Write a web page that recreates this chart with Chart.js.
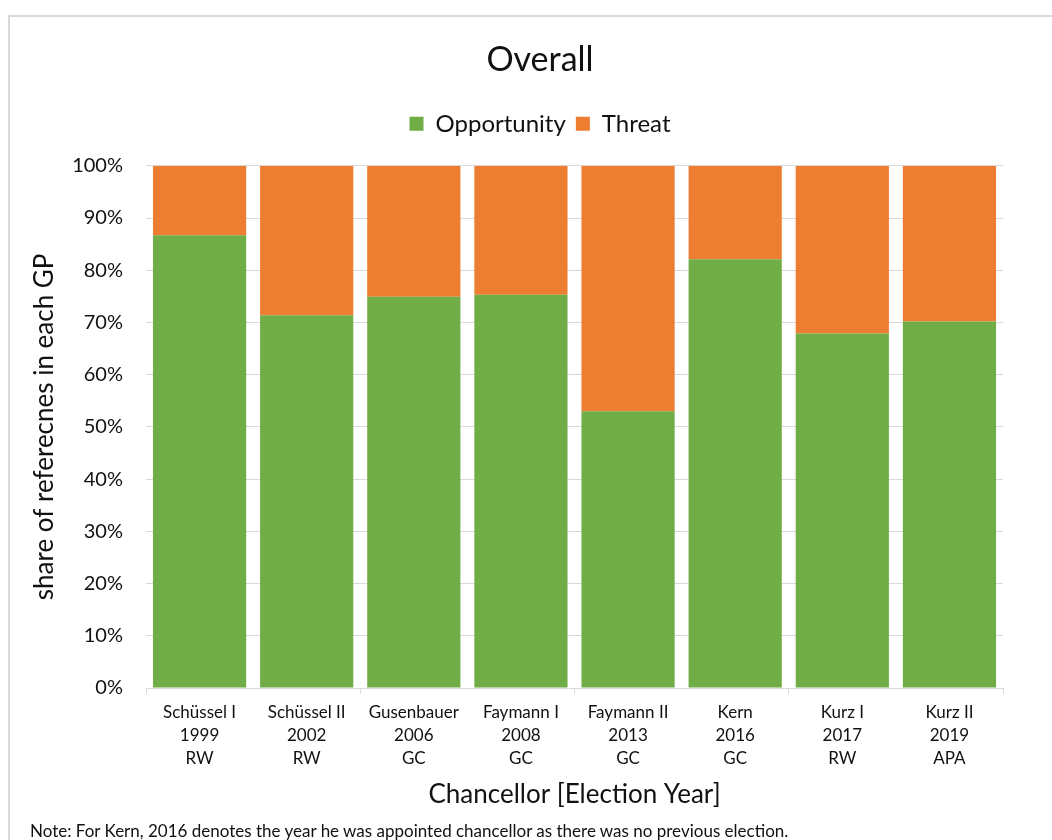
<!DOCTYPE html>
<html>
<head>
<meta charset="utf-8">
<script src="https://cdn.jsdelivr.net/npm/chart.js@4/dist/chart.umd.min.js"></script>
<style>
    html, body { margin: 0; padding: 0; background: #fff; overflow: hidden; }
    #wrap { position: relative; width: 1052px; height: 840px; }
    #frame {
        position: absolute; left: 8px; top: 15px; width: 1100px; height: 900px;
        border-left: 2px solid #d9d9d9; border-top: 2px solid #d9d9d9;
    }
    #chart { position: absolute; left: 0; top: 0; }
    #note {
        position: absolute; left: 30px; top: 821px;
        font-family: Lato, sans-serif; font-size: 17px; line-height: 20px; color: #111;
        white-space: nowrap;
    }
</style>
</head>
<body>
<div id="wrap">
    <div id="frame"></div>
    <canvas id="chart" width="1052" height="840"></canvas>
    <div id="note">Note: For Kern, 2016 denotes the year he was appointed chancellor as there was no previous election.</div>
</div>
<script>
const chancellors = ["Schüssel I", "Schüssel II", "Gusenbauer", "Faymann I", "Faymann II", "Kern", "Kurz I", "Kurz II"];
const electionYears = ["1999", "2002", "2006", "2008", "2013", "2016", "2017", "2019"];
const govTypes = ["RW", "RW", "GC", "GC", "GC", "GC", "RW", "APA"];

// share of references per government period, in percent
const opportunity = [86.7, 71.4, 74.9, 75.3, 53.0, 82.1, 67.9, 70.2];
const threat = [13.3, 28.6, 25.1, 24.7, 47.0, 17.9, 32.1, 29.8];

const yTicks = [0, 10, 20, 30, 40, 50, 60, 70, 80, 90, 100];

const textColor = "#111";
const gridColor = "#d9d9d9";

Chart.defaults.font.family = "Lato, sans-serif";
Chart.defaults.color = textColor;

document.addEventListener("DOMContentLoaded", function () {
    const ctx = document.getElementById("chart");

    new Chart(ctx, {
        type: "bar",

        data: {
            labels: chancellors.map((c, i) => [c, electionYears[i], govTypes[i]]),

            datasets: [
                {
                    label: "Opportunity",
                    data: opportunity,
                    backgroundColor: "#70ad47",
                    borderWidth: 0,
                },
                {
                    label: "Threat",
                    data: threat,
                    backgroundColor: "#ed7d31",
                    borderWidth: 0,
                },
            ],
        },

        options: {
            responsive: false,
            animation: false,
            categoryPercentage: 1,
            barPercentage: 0.87,

            layout: {
                padding: { left: 28, right: 0, top: 16, bottom: 30 },
            },

            plugins: {
                tooltip: { enabled: false },
                title: {
                    display: true,
                    text: "Overall",
                    font: { size: 34, weight: "normal" },
                    padding: { top: 24, bottom: 21 },
                },
                legend: {
                    display: true,
                    labels: {
                        boxWidth: 14,
                        boxHeight: 14,
                        padding: 10,
                        font: { size: 24 },
                    },
                },
                // empty strip between the legend and the plot
                subtitle: {
                    display: true,
                    text: "",
                    weight: 500,
                    font: { size: 1, lineHeight: "20px" },
                    padding: 0,
                },
            },

            scales: {
                x: {
                    stacked: true,
                    grid: {
                        drawOnChartArea: false,
                        drawTicks: true,
                        tickLength: 6,
                        color: (c) => (c.index === undefined || c.index % 2 === 0 ? gridColor : "rgba(0,0,0,0)"),
                    },
                    border: { color: gridColor, width: 1 },
                    ticks: {
                        padding: 7,
                        maxRotation: 0,
                        autoSkip: false,
                        font: { size: 17, lineHeight: "23px" },
                    },
                    title: {
                        display: true,
                        text: "Chancellor [Election Year]",
                        font: { size: 26 },
                        padding: { top: 0, bottom: 0 },
                    },
                    afterFit: (s) => { s.height = 122; },
                },
                y: {
                    stacked: true,
                    min: 0,
                    max: 100,
                    grid: { color: gridColor, drawTicks: false },
                    border: { display: false },
                    afterBuildTicks: (s) => { s.ticks = yTicks.map((v) => ({ value: v })); },
                    ticks: {
                        padding: 23,
                        font: { size: 20 },
                        callback: (v) => v + "%",
                    },
                    title: {
                        display: true,
                        text: "share of referecnes in each GP",
                        font: { size: 26 },
                        padding: { top: 1, bottom: 0 },
                    },
                    afterFit: (s) => { s.width = 118; },
                },
                // blank strip on the right so the title centres over the whole frame
                yRight: {
                    position: "right",
                    grid: { display: false },
                    border: { display: false },
                    ticks: { display: false },
                    afterFit: (s) => { s.width = 49; },
                },
            },
        },
    });
});
</script>
</body>
</html>
